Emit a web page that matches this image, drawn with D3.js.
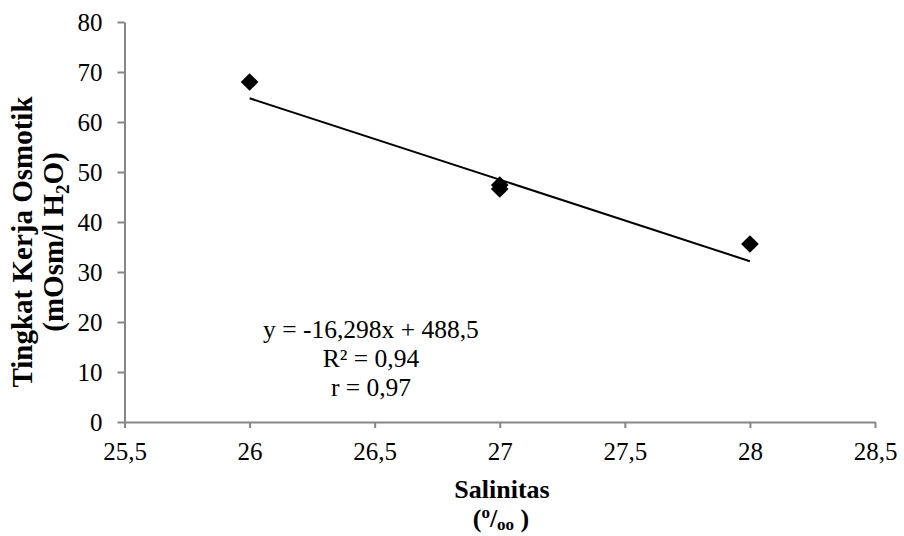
<!DOCTYPE html>
<html><head><meta charset="utf-8">
<script src="https://cdn.jsdelivr.net/npm/d3@7"></script>
<style>body{margin:0;background:#fff}svg{display:block}svg text{font-family:"Liberation Serif","Times New Roman",Tinos,Times,serif}</style>
</head><body>
<div id="chart"></div>
<script>
const xValues = [26, 27, 27, 28];
const yValues = [68.0, 46.6, 47.4, 35.6];
const trendSlope = -16.298;
const trendIntercept = 488.5;
const trendRange = [26, 28];
const xTicks = [25.5, 26, 26.5, 27, 27.5, 28, 28.5];
const yTicks = [0, 10, 20, 30, 40, 50, 60, 70, 80];
const eqLines = ["y = -16,298x + 488,5", "R² = 0,94", "r = 0,97"];

const W = 904, H = 536;
const svg = d3.select("#chart").append("svg").attr("width", W).attr("height", H);

const x = d3.scaleLinear().domain([25.5, 28.5]).range([124.5, 875]);
const y = d3.scaleLinear().domain([0, 80]).range([422, 22]);
const fmt = d => String(d).replace(".", ",");

const gx = svg.append("g").attr("transform", `translate(0,${y(0)})`)
  .call(d3.axisBottom(x).tickValues(xTicks).tickFormat(fmt).tickSizeInner(6).tickSizeOuter(0).tickPadding(14));
const gy = svg.append("g").attr("transform", `translate(${x(25.5)},0)`)
  .call(d3.axisLeft(y).tickValues(yTicks).tickSizeInner(7).tickSizeOuter(0).tickPadding(15));
[gx, gy].forEach(g => {
  g.attr("font-family", null).attr("font-size", null);
  g.select(".domain").attr("stroke", "#868686").attr("stroke-width", 2);
  g.selectAll(".tick line").attr("stroke", "#868686").attr("stroke-width", 2);
  g.selectAll(".tick text").attr("font-size", 25).attr("fill", "#000");
});

// trendline
svg.append("line")
  .attr("x1", x(trendRange[0])).attr("y1", y(trendSlope * trendRange[0] + trendIntercept))
  .attr("x2", x(trendRange[1])).attr("y2", y(trendSlope * trendRange[1] + trendIntercept))
  .attr("stroke", "#000").attr("stroke-width", 2);

// points
const pts = xValues.map((v, i) => [v, yValues[i]]);
svg.selectAll("path.pt").data(pts).enter().append("path")
  .attr("class", "pt")
  .attr("d", d3.symbol().type(d3.symbolDiamond2).size(200))
  .attr("transform", d => `translate(${x(d[0])},${y(d[1])})`)
  .attr("fill", "#000");

// equation text
const eq = svg.append("text").attr("font-size", 25.5).attr("text-anchor", "middle");
eqLines.forEach((t, i) => {
  eq.append("tspan").attr("x", 371).attr("y", 338 + i * 29).text(t);
});

// y title
const yt = svg.append("text").attr("font-size", 29).attr("font-weight", "bold")
  .attr("text-anchor", "middle").attr("transform", "rotate(-90)");
yt.append("tspan").attr("x", -242).attr("y", 32).text("Tingkat Kerja Osmotik");
const l2 = yt.append("tspan").attr("x", -242).attr("y", 63);
l2.append("tspan").text("(mOsm/l H");
l2.append("tspan").attr("font-size", 19).attr("dy", 6).text("2");
l2.append("tspan").attr("dy", -6).text("O)");

// x title
svg.append("text").attr("font-size", 26).attr("font-weight", "bold")
  .attr("text-anchor", "middle").attr("x", 502).attr("y", 498).text("Salinitas");
const xt2 = svg.append("text").attr("font-size", 26).attr("font-weight", "bold")
  .attr("text-anchor", "middle").attr("x", 501).attr("y", 527);
xt2.append("tspan").text("(");
xt2.append("tspan").attr("font-size", 17).attr("dy", -9).text("o");
xt2.append("tspan").attr("dy", 9).text("/");
xt2.append("tspan").attr("font-size", 17).attr("dy", 3).text("oo");
xt2.append("tspan").attr("dy", -3).text(" )");
</script>
</body></html>
